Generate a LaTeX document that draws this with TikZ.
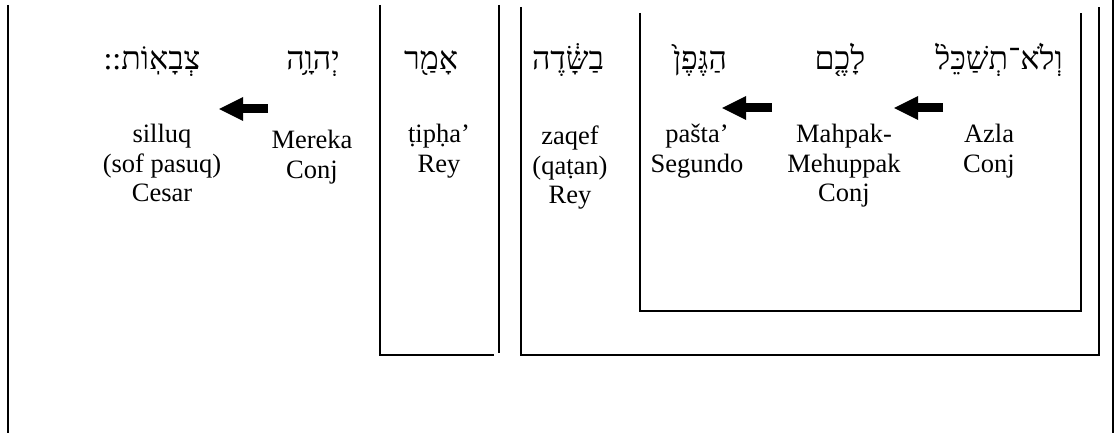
\documentclass[tikz,border=0pt]{standalone}
\usepackage{fontspec}
\setmainfont{Liberation Serif}
\newfontfamily\hebfont[Script=Hebrew]{Liberation Serif}
\TeXXeTstate=1
\usetikzlibrary{arrows.meta}

\tikzset{
  frame/.style={line width=1.5pt},
  heb/.style={font=\hebfont\fontsize{32}{36}\selectfont, anchor=base, inner sep=0pt},
  gloss/.style={font=\fontsize{26.5}{29.5}\selectfont, align=center, anchor=north,
    inner sep=0pt, execute at begin node={\rule{0pt}{20pt}}},
  blockarrow/.style={line width=9pt,
    -{Triangle[length=24pt,width=24pt,line width=0pt]}},
}

\begin{document}
\begin{tikzpicture}[x=1pt,y=-1pt]
\useasboundingbox (0,0) rectangle (1115,433);

% bracketing frames
\draw[frame] (8,5) -- (8,433);
\draw[frame] (1113,0) -- (1113,433);
\draw[frame] (380,5) -- (380,355) -- (494,355);
\draw[frame] (499,5) -- (499,353);
\draw[frame] (521,7) -- (521,355) -- (1099,355) -- (1099,7);
\draw[frame] (640,13) -- (640,311) -- (1081,311) -- (1081,13);

% Hebrew words
\node[heb] (w1) at (999,70) {\beginR וְלֹא־תְשַׁכֵּל֨\endR};
\node[heb] (w2) at (840,70) {\beginR לָכֶ֤ם\endR};
\node[heb] (w3) at (700,70) {\beginR הַגֶּפֶן֙\endR};
\node[heb] (w4) at (568,70) {\beginR בַשָּׂ֔דֶה\endR};
\node[heb] (w5) at (431,70) {\beginR אָמַ֖ר\endR};
\node[heb] (w6) at (313,70) {\beginR יְהוָ֥ה\endR};
\node[heb] (w7) at (152,70) {\beginR צְבָאֽוֹת::\endR};

% accent names and functions
\node[gloss] (g1) at (989,124) {Azla\\Conj};
\node[gloss] (g2) at (844,124) {Mahpak-\\Mehuppak\\Conj};
\node[gloss] (g3) at (697,124) {pašta’\\Segundo};
\node[gloss] (g4) at (570,126) {zaqef\\(qaṭan)\\Rey};
\node[gloss] (g5) at (439,124) {ṭipḥa’\\Rey};
\node[gloss] (g6) at (312,130) {Mereka\\Conj};
\node[gloss] (g7) at (162,124) {silluq\\(sof pasuq)\\Cesar};

% conjunctive links
\coordinate (a1s) at (943,108);
\coordinate (a1e) at (894,108);
\coordinate (a2s) at (772,108);
\coordinate (a2e) at (722,108);
\coordinate (a3s) at (268,109);
\coordinate (a3e) at (219,109);
\draw[blockarrow] (a1s) -- (a1e);
\draw[blockarrow] (a2s) -- (a2e);
\draw[blockarrow] (a3s) -- (a3e);
\end{tikzpicture}
\end{document}
